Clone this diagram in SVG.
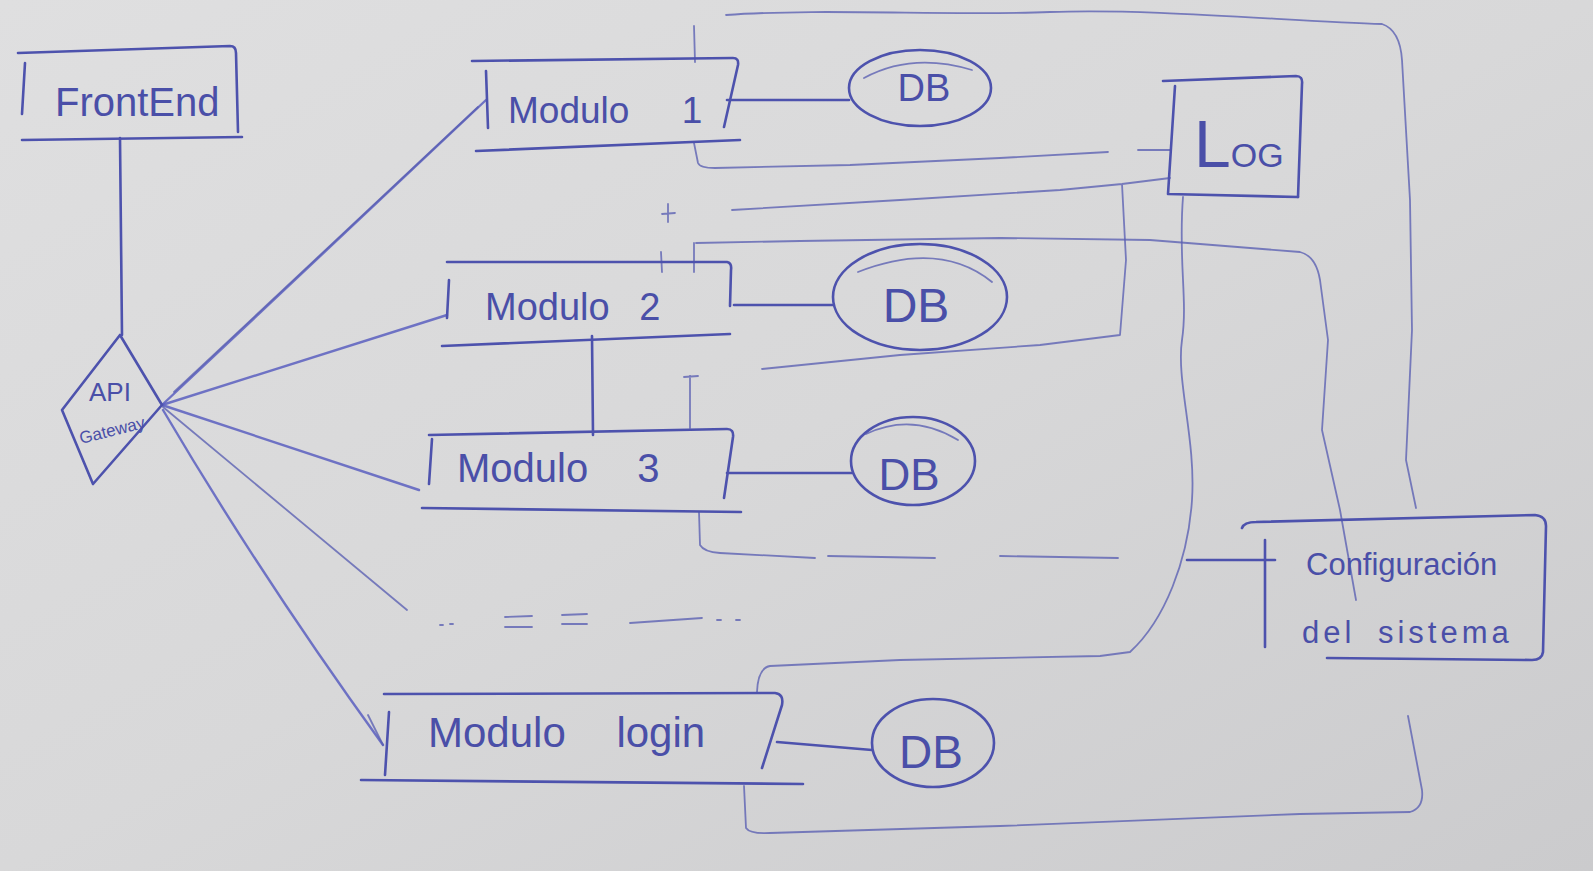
<svg xmlns="http://www.w3.org/2000/svg" width="1593" height="871" viewBox="0 0 1593 871">
<defs>
<linearGradient id="paper" x1="0" y1="0" x2="1" y2="1">
<stop offset="0" stop-color="#dfdfe0"/>
<stop offset="0.5" stop-color="#d8d8d9"/>
<stop offset="1" stop-color="#cbcbcd"/>
</linearGradient>
<style>
.ink{fill:none;stroke:#4d52ad;stroke-width:2.6;stroke-linecap:round;stroke-linejoin:round}
.thin{fill:none;stroke:#5a5fb2;stroke-width:1.8;stroke-linecap:round;stroke-linejoin:round;opacity:.78}
.fan{fill:none;stroke:#5a5fc0;stroke-width:2.4;stroke-linecap:round;opacity:.85}
.lbl{font-family:"Liberation Sans",Arial,sans-serif;fill:#4a4fa8}
</style>
</defs>
<rect width="1593" height="871" fill="url(#paper)"/>

<g id="connectors">
<!-- FrontEnd to API Gateway -->
<path class="ink" d="M120,138 L122,335"/>
<!-- gateway fan -->
<path class="fan" d="M162,405 L486,100"/>
<path class="thin" d="M174,392 L478,107"/>
<path class="fan" d="M162,405 L447,315"/>
<path class="fan" d="M162,405 L419,490"/>
<path class="thin" d="M163,407 L407,610"/>
<path class="fan" d="M163,410 Q262,578 383,745"/>
<path class="thin" d="M368,715 L383,745"/>
<!-- modules to DBs -->
<path class="ink" d="M727,100 L849,100"/>
<path class="ink" d="M734,305 L833,305"/>
<path class="ink" d="M727,473 L852,473"/>
<path class="ink" d="M777,742 L872,750"/>
<!-- Modulo 2 to Modulo 3 -->
<path class="ink" d="M592,336 L593,435" stroke-width="3.2"/>
<!-- outer loop: Modulo 1 top / right side -->
<path class="thin" d="M694,26 L695,62"/>
<path class="thin" d="M726,15 C820,8 950,16 1050,12 S1300,22 1382,24 Q1400,30 1402,60 L1410,200 L1412,330 L1406,460 L1416,508"/>
<!-- Modulo login bottom loop -->
<path class="thin" d="M744,786 L746,828 Q750,834 770,833 L1000,826 L1300,814 L1410,812 Q1424,808 1422,790 L1408,716"/>
<!-- Modulo 1 to LOG -->
<path class="thin" d="M694,143 L698,163 Q700,168 715,168 L850,165 L1000,158 L1108,152 M1138,150 L1170,150"/>
<!-- Modulo 2 / Modulo 3 to LOG -->
<path class="thin" d="M732,210 L900,200 L1060,190 L1122,184 L1170,178 M1122,184 L1126,260 L1120,335 L1040,345 L900,355 L762,369"/>
<path class="thin" d="M668,204 L668,222 M662,214 L675,213 M661,252 L662,272"/>
<path class="thin" d="M690,376 L690,428 M684,377 L698,376"/>
<!-- Modulo 2 to Configuracion -->
<path class="thin" d="M694,243 L694,272 M696,243 L800,241 L1000,238 L1150,240 L1300,252 Q1316,256 1320,280 L1328,340 L1322,430 L1340,510 L1356,600"/>
<!-- Modulo 3 to Configuracion -->
<path class="thin" d="M699,512 L700,545 Q704,552 720,553 L815,558 M828,556 L935,558 M1000,556 L1118,558"/>
<path class="ink" d="M1187,560 L1275,560" stroke-width="2"/>
<!-- LOG to Modulo login -->
<path class="thin" d="M1183,197 C1178,260 1188,300 1182,340 C1176,380 1196,440 1192,500 C1188,560 1165,620 1130,652 L1100,656 L900,660 L770,666 Q758,668 757,692"/>
</g>

<g id="node-frontend">
<path class="ink" d="M18,53 L230,46 Q236,46 236,53 L238,132"/>
<path class="ink" d="M25,63 L22,114"/>
<path class="ink" d="M22,140 L242,137"/>
<text class="lbl" x="55" y="116" font-size="40">FrontEnd</text>
</g>

<g id="node-gateway">
<path class="ink" d="M120,335 L162,405 L93,484 L62,410 Z"/>
<text class="lbl" x="110" y="401" font-size="26" text-anchor="middle">API</text>
<text class="lbl" x="112" y="436" font-size="17" text-anchor="middle" transform="rotate(-14 112 430)">Gateway</text>
</g>

<g id="node-modulo1">
<path class="ink" d="M472,61 L733,58 Q739,58 738,65 L724,127"/>
<path class="ink" d="M486,71 L488,128"/>
<path class="ink" d="M476,151 L740,140"/>
<text class="lbl" x="508" y="123" font-size="37" word-spacing="42">Modulo 1</text>
</g>

<g id="node-db1">
<ellipse class="ink" cx="920" cy="88" rx="71" ry="38"/>
<path class="thin" d="M864,78 Q912,52 972,70"/>
<text class="lbl" x="924" y="101" font-size="38" text-anchor="middle">DB</text>
</g>

<g id="node-modulo2">
<path class="ink" d="M447,262 L727,262 Q732,263 731,270 L730,306"/>
<path class="ink" d="M449,280 L447,318"/>
<path class="ink" d="M442,346 L730,334"/>
<text class="lbl" x="485" y="320" font-size="38" word-spacing="19">Modulo 2</text>
</g>

<g id="node-db2">
<ellipse class="ink" cx="920" cy="297" rx="87" ry="53"/>
<path class="thin" d="M858,272 Q940,240 992,282"/>
<text class="lbl" x="916" y="322" font-size="48" text-anchor="middle">DB</text>
</g>

<g id="node-modulo3">
<path class="ink" d="M429,435 L727,429 Q734,429 733,437 L724,498"/>
<path class="ink" d="M432,439 L429,484"/>
<path class="ink" d="M422,508 L741,512"/>
<text class="lbl" x="457" y="482" font-size="40" word-spacing="38">Modulo 3</text>
</g>

<g id="node-db3">
<ellipse class="ink" cx="913" cy="461" rx="62" ry="44"/>
<path class="thin" d="M866,434 Q912,412 958,440"/>
<text class="lbl" x="909" y="490" font-size="44" text-anchor="middle">DB</text>
</g>

<g id="continuation">
<path class="thin" d="M440,625 L443,625 M450,624 L453,624 M505,617 L532,616 M505,627 L532,627 M562,615 L587,614 M562,624 L587,624 M630,623 L702,618 M717,620 L721,620 M736,620 L740,620"/>
</g>

<g id="node-modulo-login">
<path class="ink" d="M384,694 L775,693 Q784,694 782,705 L762,768"/>
<path class="ink" d="M389,712 L385,775"/>
<path class="ink" d="M361,780 L803,784"/>
<text class="lbl" x="428" y="747" font-size="42" word-spacing="39">Modulo login</text>
</g>

<g id="node-db4">
<ellipse class="ink" cx="933" cy="743" rx="61" ry="44"/>
<text class="lbl" x="931" y="768" font-size="46" text-anchor="middle">DB</text>
</g>

<g id="node-log">
<path class="ink" d="M1163,81 L1296,76 Q1303,76 1302,84 L1298,197"/>
<path class="ink" d="M1175,86 L1168,194 L1298,197"/>
<text class="lbl" x="1194" y="167"><tspan font-size="66">L</tspan><tspan font-size="34">OG</tspan></text>
</g>

<g id="node-config">
<path class="ink" d="M1242,528 Q1244,522 1256,522 L1535,515 Q1546,516 1546,526 L1543,652 Q1542,660 1532,660 L1327,658"/>
<path class="ink" d="M1265,540 L1265,647"/>
<text class="lbl" x="1306" y="575" font-size="31">Configuración</text>
<text class="lbl" x="1302" y="643" font-size="31" letter-spacing="4" word-spacing="10">del sistema</text>
</g>
</svg>
